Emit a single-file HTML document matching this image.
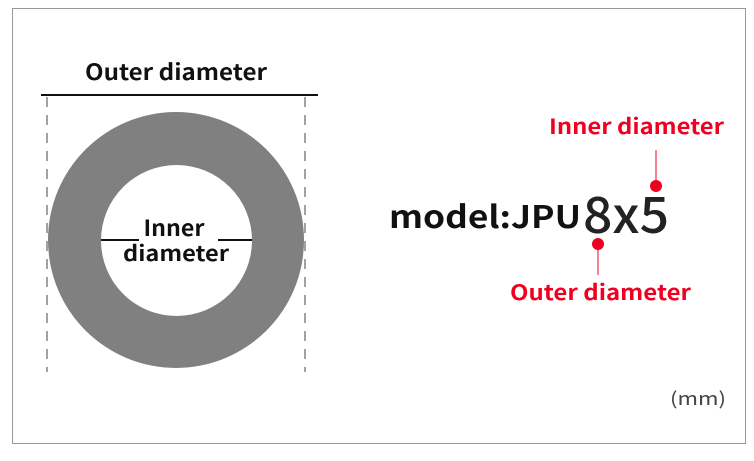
<!DOCTYPE html>
<html><head><style>
body{margin:0;width:754px;height:456px;background:#fff;overflow:hidden;}
text{font-family:"Noto Sans CJK SC","Liberation Sans",sans-serif;}
</style></head><body>
<svg width="754" height="456" xmlns="http://www.w3.org/2000/svg">
<rect x="12.5" y="8.5" width="733" height="435" fill="#fff" stroke="#999" stroke-width="1"/>
<circle cx="176" cy="240" r="128" fill="#808080"/>
<circle cx="176.5" cy="240.5" r="75.5" fill="#fff"/>
<line x1="41" y1="95" x2="318" y2="95" stroke="#111" stroke-width="2"/>
<line x1="47" y1="97" x2="47" y2="372" stroke="#444" stroke-width="1" stroke-dasharray="10,8"/>
<line x1="305" y1="97" x2="305" y2="372" stroke="#444" stroke-width="1" stroke-dasharray="10,8"/>
<text x="176" y="80" text-anchor="middle" font-size="22" font-weight="bold" fill="#111" textLength="182" lengthAdjust="spacingAndGlyphs">Outer diameter</text>
<line x1="101" y1="240" x2="139" y2="240" stroke="#111" stroke-width="2"/>
<line x1="218" y1="240" x2="252" y2="240" stroke="#111" stroke-width="2"/>
<text x="174" y="236" text-anchor="middle" font-size="22" font-weight="bold" fill="#111" textLength="61" lengthAdjust="spacingAndGlyphs">Inner</text>
<text x="176" y="261" text-anchor="middle" font-size="21" font-weight="bold" fill="#111" textLength="106" lengthAdjust="spacingAndGlyphs">diameter</text>
<text x="389" y="228" font-size="31" font-weight="bold" fill="#111" textLength="192" lengthAdjust="spacingAndGlyphs">model:JPU</text>
<text x="583" y="233" font-size="50" font-weight="500" fill="#222" textLength="86" lengthAdjust="spacingAndGlyphs">8x5</text>
<line x1="656" y1="150" x2="656" y2="182" stroke="#e8002a" stroke-width="1"/>
<circle cx="656" cy="186" r="6" fill="#f00020"/>
<line x1="598" y1="248" x2="598" y2="275" stroke="#e8002a" stroke-width="1"/>
<circle cx="598" cy="244" r="6" fill="#f00020"/>
<text x="549" y="134" font-size="21" font-weight="bold" fill="#f00020" textLength="175" lengthAdjust="spacingAndGlyphs">Inner diameter</text>
<text x="510" y="300" font-size="21" font-weight="bold" fill="#f00020" textLength="181" lengthAdjust="spacingAndGlyphs">Outer diameter</text>
<text x="670" y="405" font-size="18" fill="#444" textLength="56" lengthAdjust="spacingAndGlyphs">(mm)</text>
</svg>
</body></html>
